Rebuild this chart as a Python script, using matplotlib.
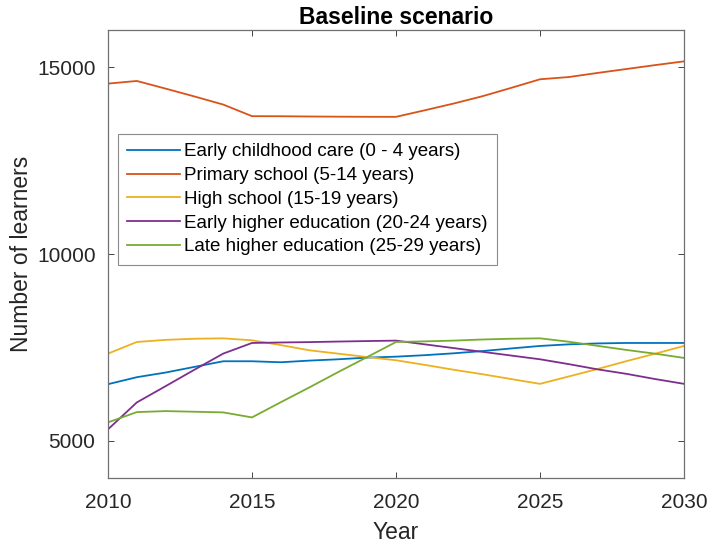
"""Baseline scenario: projected number of learners per education level."""

import matplotlib
matplotlib.use("Agg")
import matplotlib.pyplot as plt

# ---------------------------------------------------------------------------
# Data
# ---------------------------------------------------------------------------

YEARS = list(range(2010, 2031))

EARLY_CHILDHOOD = [6513, 6700, 6825, 6976, 7127, 7127, 7100, 7145, 7180, 7225,
                   7250, 7290, 7340, 7400, 7470, 7537, 7580, 7605, 7617, 7617, 7617]
PRIMARY = [14564, 14635, 14430, 14220, 14003, 13692, 13690, 13683, 13678, 13675,
           13674, 13850, 14030, 14226, 14450, 14680, 14740, 14850, 14955, 15060, 15160]
HIGH_SCHOOL = [7332, 7643, 7700, 7730, 7741, 7688, 7560, 7420, 7330, 7240,
               7154, 7030, 6900, 6780, 6650, 6522, 6720, 6920, 7130, 7330, 7537]
EARLY_HIGHER = [5303, 6024, 6460, 6900, 7332, 7617, 7630, 7640, 7655, 7668,
                7680, 7580, 7480, 7380, 7280, 7180, 7050, 6910, 6790, 6650, 6522]
LATE_HIGHER = [5490, 5765, 5792, 5775, 5757, 5623, 6030, 6430, 6840, 7240,
               7643, 7660, 7680, 7710, 7730, 7741, 7650, 7540, 7430, 7330, 7216]

SERIES = [
    ("Early childhood care (0 - 4 years)", EARLY_CHILDHOOD, "#0072BD"),
    ("Primary school (5-14 years)",        PRIMARY,         "#D95319"),
    ("High school (15-19 years)",          HIGH_SCHOOL,     "#EDB120"),
    ("Early higher education (20-24 years)", EARLY_HIGHER,  "#7E2F8E"),
    ("Late higher education (25-29 years)",  LATE_HIGHER,   "#77AC30"),
]

X_TICKS = [2010, 2015, 2020, 2025, 2030]
Y_TICKS = [5000, 10000, 15000]

# ---------------------------------------------------------------------------
# Plot
# ---------------------------------------------------------------------------

plt.rcParams["font.family"] = ["Liberation Sans", "DejaVu Sans"]
AX_COL = "#262626"

fig = plt.figure(figsize=(7.09, 5.44), dpi=100)
ax = fig.add_axes([108 / 709, 1 - 478 / 544, 576 / 709, 448 / 544])

for label, values, color in SERIES:
    ax.plot(YEARS, values, color=color, linewidth=1.3, label=label)

ax.set_xlim(2010, 2030)
ax.set_ylim(4000, 16000)
ax.set_xticks(X_TICKS)
ax.set_yticks(Y_TICKS)
ax.tick_params(direction="in", length=4, width=0.6, top=True, right=True,
               labelsize=15, colors=AX_COL, labelcolor=AX_COL)
ax.tick_params(axis="x", pad=11)
ax.tick_params(axis="y", pad=9)
for spine in ax.spines.values():
    spine.set_color("#707070")
    spine.set_linewidth(0.9)

ax.set_title("Baseline scenario", fontsize=16.5, fontweight="bold", pad=4)
ax.set_xlabel("Year", fontsize=16.5, color=AX_COL, labelpad=6)
ax.set_ylabel("Number of learners", fontsize=16.5, color=AX_COL, labelpad=3)

leg = ax.legend(loc="upper left", bbox_to_anchor=(10 / 576, 344 / 448),
                borderaxespad=0, fontsize=13.5, handlelength=2.8,
                handletextpad=0.2, labelspacing=0.35, borderpad=0.5,
                fancybox=False, framealpha=1, edgecolor="#8c8c8c")
leg.get_frame().set_linewidth(0.8)

fig.savefig("out.png", dpi=100)
